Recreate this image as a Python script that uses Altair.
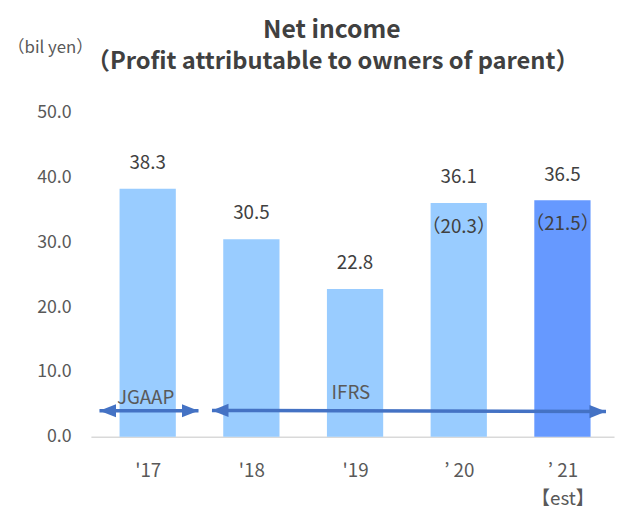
import json
import altair as alt
import pandas as pd

# ---- data ----
years = ["'17", "'18", "'19", "’ 20", "’ 21"]
est_note = "【est】"
net_income = [38.3, 30.5, 22.8, 36.1, 36.5]
ifrs_paren = [None, None, None, 20.3, 21.5]
bar_kind = ["actual", "actual", "actual", "actual", "estimate"]
unit_text = ["（bil yen）"]
title_text = ["Net income"]
subtitle_text = ["（Profit attributable to owners of parent）"]

# accounting-standard arrows (x in year-index units, y in bil yen)
std_names = ["JGAAP", "IFRS"]
arrow_x_start = [-0.465, 0.62]
arrow_x_end = [0.49, 4.42]
arrow_y_start = [4.0, 4.05]
arrow_y_end = [4.0, 3.88]
std_label_x = [-0.02, 1.96]
std_label_y = [6.0, 6.75]

FONT = "Noto Sans CJK JP"
TXT = "#404040"
AX = "#595959"
ARROW = "#4472C4"

bars = pd.DataFrame({
    "idx": list(range(len(years))),
    "value": net_income,
    "paren": ifrs_paren,
    "kind": bar_kind,
})
bars["label"] = [f"{v:.1f}" for v in net_income]
bars["paren_label"] = [("（%.1f）" % p) if p is not None else "" for p in ifrs_paren]

segs = pd.DataFrame({
    "name": std_names,
    "x0": arrow_x_start, "x1": arrow_x_end,
    "y0": arrow_y_start, "y1": arrow_y_end,
})
heads = pd.DataFrame({
    "x": arrow_x_start + arrow_x_end,
    "y": arrow_y_start + arrow_y_end,
    "dir": ["left", "left", "right", "right"],
})
std_labels = pd.DataFrame({"name": std_names, "x": std_label_x, "y": std_label_y})

axis_labels = years[:-1] + [[years[-1], est_note]]
label_expr = json.dumps(axis_labels, ensure_ascii=False) + "[datum.value]"

xscale = alt.Scale(domain=[-0.5, 4.45], nice=False, zero=False)
yscale = alt.Scale(domain=[0, 50], nice=False)

base = alt.Chart(bars)

bar_layer = base.mark_bar(size=57).encode(
    x=alt.X("idx:Q", scale=xscale, axis=alt.Axis(
        values=[0, 1, 2, 3, 4], labelExpr=label_expr, title=None, grid=False,
        ticks=False, domainColor="#D9D9D9", domainWidth=1.5, labelPadding=25,
        labelFontSize=19, labelColor=AX, labelLineHeight=29, labelFlush=False,
        labelOverlap=False, labelBaseline="top")),
    y=alt.Y("value:Q", scale=yscale, axis=alt.Axis(
        values=[0, 10, 20, 30, 40, 50], format=".1f", grid=False, ticks=False,
        domain=False, labelPadding=20, labelFontSize=18, labelColor=AX,
        title=None)),
    color=alt.Color("kind:N", scale=alt.Scale(domain=["actual", "estimate"],
                                              range=["#99CCFF", "#6699FF"]),
                    legend=None),
)

value_text = base.mark_text(fontSize=19, color=TXT, baseline="middle", dy=-26).encode(
    x="idx:Q", y="value:Q", text="label:N")

paren_text = base.mark_text(fontSize=19, color=TXT, baseline="middle", dy=24).encode(
    x="idx:Q", y="value:Q", text="paren_label:N")

rules = alt.Chart(segs).mark_rule(color=ARROW, strokeWidth=3.5).encode(
    x="x0:Q", x2="x1", y="y0:Q", y2="y1")

head_layer = alt.Chart(heads).mark_point(filled=True, opacity=1, color=ARROW, size=280).encode(
    x="x:Q", y="y:Q",
    shape=alt.Shape("dir:N", scale=alt.Scale(
        domain=["left", "right"],
        range=["M0,0 L2,-0.8 L2,0.8 Z", "M0,0 L-2,-0.8 L-2,0.8 Z"]), legend=None),
)

std_text = alt.Chart(std_labels).mark_text(fontSize=19, color=AX, baseline="middle").encode(
    x="x:Q", y="y:Q", text="name:N")

unit_layer = alt.Chart(pd.DataFrame({"t": unit_text})).mark_text(
    fontSize=17, color=AX, baseline="middle", align="center").encode(
    x=alt.value(-41), y=alt.value(-66), text="t:N")

title_layer = alt.Chart(pd.DataFrame({"t": title_text})).mark_text(
    fontSize=25, fontWeight="bold", color=TXT, baseline="middle", align="center").encode(
    x=alt.value(244), y=alt.value(-84), text="t:N")

subtitle_layer = alt.Chart(pd.DataFrame({"t": subtitle_text})).mark_text(
    fontSize=24, fontWeight="bold", color=TXT, baseline="middle", align="center").encode(
    x=alt.value(245), y=alt.value(-51), text="t:N")

chart = alt.layer(bar_layer, value_text, paren_text, rules, head_layer, std_text,
                  unit_layer, title_layer, subtitle_layer).properties(
    width=530, height=328,
    autosize=alt.AutoSizeParams(type="none"),
    padding={"left": 84, "top": 103, "right": 2, "bottom": 71},
).configure(font=FONT).configure_view(stroke=None)

chart.save("out.html", embed_options={"renderer": "svg", "actions": False})
